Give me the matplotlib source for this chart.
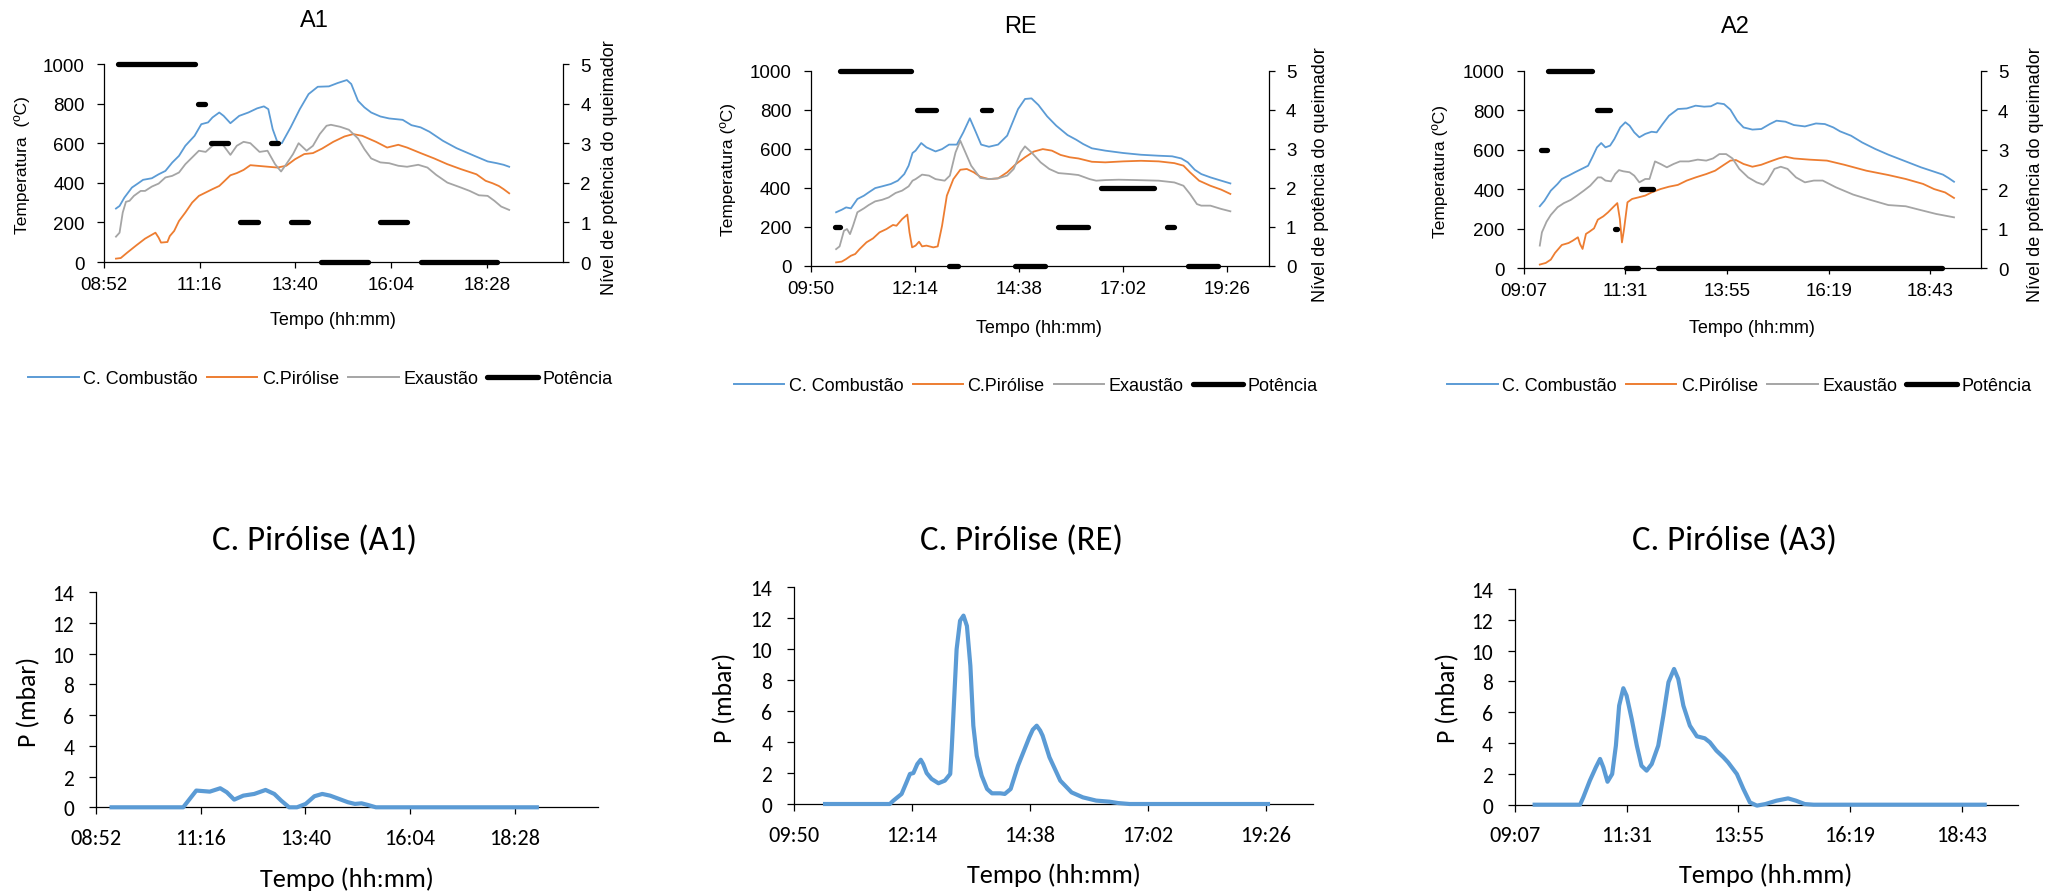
import numpy as np
import matplotlib
matplotlib.use("Agg")
import matplotlib.pyplot as plt
from matplotlib.ticker import FuncFormatter
from matplotlib.lines import Line2D

# ---------------- DATA (time in decimal hours) ----------------
# Panel A1 (top)
A1_comb_t = [9.18,9.27,9.39,9.58,9.74,9.86,10.08,10.25,10.42,10.59,10.76,10.92,11.15,11.32,11.49,11.60,11.77,11.88,12.05,12.27,12.50,12.72,12.89,13.00,13.11,13.23,13.34,13.56,13.79,14.01,14.24,14.52,14.74,14.97,15.08,15.25,15.41,15.58,15.81,16.03,16.37,16.59,16.82,17.04,17.38,17.72,18.17,18.50,18.73,18.90,19.04]
A1_comb_v = [270,283,325,376,398,415,423,443,460,502,536,587,637,696,705,730,755,738,701,738,755,776,786,772,671,604,600,680,772,848,885,887,904,919,899,814,781,755,735,725,718,691,680,658,612,575,536,508,499,491,481]
A1_pir_t = [9.18,9.30,9.46,9.69,9.91,10.17,10.25,10.31,10.47,10.53,10.64,10.76,10.92,11.09,11.26,11.43,11.60,11.77,11.88,12.05,12.21,12.38,12.55,12.72,13.00,13.23,13.45,13.67,13.90,14.12,14.35,14.63,14.91,15.13,15.36,15.70,15.98,16.26,16.48,16.82,17.16,17.49,17.83,18.22,18.45,18.62,18.78,18.90,19.04]
A1_pir_v = [17,20,47,84,118,148,123,98,101,131,157,207,250,300,334,351,368,384,405,438,449,465,489,486,481,477,486,519,545,550,573,607,634,646,637,607,578,592,578,550,523,494,469,443,410,398,384,368,347]
A1_exa_t = [9.18,9.27,9.35,9.43,9.52,9.63,9.80,9.91,10.08,10.25,10.42,10.59,10.76,10.92,11.09,11.26,11.43,11.60,11.77,11.88,12.05,12.21,12.38,12.55,12.78,12.98,13.17,13.32,13.45,13.62,13.76,13.96,14.12,14.29,14.46,14.57,14.80,15.02,15.25,15.41,15.58,15.81,16.03,16.26,16.48,16.76,16.99,17.21,17.49,17.83,18.05,18.28,18.50,18.67,18.84,19.04]
A1_exa_v = [128,148,250,304,309,334,359,359,381,396,427,435,452,494,528,562,556,587,604,587,541,587,607,600,556,562,494,457,494,545,600,562,587,646,688,693,683,668,624,570,523,503,499,486,481,491,477,440,401,376,359,337,334,309,280,263]
A1_pow_start = [9.22, 11.23, 11.56, 12.30, 13.06, 13.56, 14.31, 15.81, 16.82]
A1_pow_end = [11.17, 11.41, 11.99, 12.75, 13.25, 13.99, 15.49, 16.48, 18.73]
A1_pow_level = [5, 4, 3, 1, 3, 1, 0, 1, 0]

# Panel RE (top)
RE_comb_t = [10.43,10.56,10.66,10.77,10.92,11.07,11.18,11.33,11.49,11.69,11.85,12.00,12.10,12.19,12.26,12.39,12.51,12.72,12.87,13.03,13.21,13.36,13.51,13.65,13.77,13.95,14.16,14.37,14.62,14.78,14.93,15.09,15.29,15.50,15.76,15.96,16.12,16.32,16.63,17.04,17.45,17.86,18.17,18.38,18.53,18.69,18.84,19.05,19.30,19.51]
RE_comb_v = [274,287,299,294,342,359,376,398,407,419,436,470,513,578,590,629,607,586,598,621,621,684,756,684,621,610,621,667,803,855,858,824,766,718,670,646,624,602,590,578,569,564,561,550,530,492,470,453,436,422]
RE_pir_t = [10.43,10.56,10.66,10.77,10.87,10.97,11.13,11.28,11.43,11.59,11.74,11.82,11.95,12.07,12.12,12.18,12.26,12.34,12.41,12.51,12.67,12.77,12.87,12.98,13.13,13.29,13.44,13.60,13.75,13.95,14.16,14.37,14.57,14.78,14.98,15.19,15.40,15.60,15.81,16.01,16.32,16.63,17.04,17.45,17.86,18.22,18.43,18.58,18.79,19.05,19.30,19.51]
RE_pir_v = [17,21,34,51,60,85,120,140,171,188,209,205,239,262,171,94,103,123,99,103,94,99,205,359,444,492,496,479,456,444,448,479,521,556,585,598,590,568,556,550,533,530,535,538,535,526,513,479,436,410,390,368]
RE_exa_t = [10.43,10.51,10.61,10.68,10.75,10.82,10.92,11.07,11.18,11.33,11.49,11.64,11.80,11.95,12.10,12.19,12.26,12.41,12.57,12.72,12.93,13.05,13.18,13.29,13.39,13.54,13.75,13.95,14.16,14.37,14.52,14.68,14.78,14.93,15.14,15.34,15.55,15.81,16.01,16.27,16.42,16.63,16.94,17.35,17.86,18.22,18.43,18.58,18.74,18.84,19.05,19.30,19.51]
RE_exa_v = [85,99,179,188,162,205,274,294,311,330,338,350,373,385,407,436,444,467,462,444,436,462,581,641,590,513,450,444,448,462,496,581,612,581,530,496,475,470,465,444,436,439,441,439,436,427,410,368,316,308,308,291,279]
RE_pow_start = [10.41, 10.53, 12.29, 13.04, 13.78, 14.54, 15.53, 16.53, 18.04, 18.53]
RE_pow_end = [10.51, 12.16, 12.74, 13.23, 13.99, 15.24, 16.24, 17.74, 18.22, 19.23]
RE_pow_level = [1, 5, 4, 0, 4, 0, 1, 2, 1, 0]

# Panel A2 (top)
A2_comb_t = [9.50,9.61,9.76,9.92,10.02,10.18,10.33,10.49,10.64,10.74,10.85,10.95,11.05,11.16,11.26,11.40,11.52,11.62,11.73,11.85,11.99,12.14,12.26,12.40,12.55,12.76,12.97,13.18,13.38,13.54,13.69,13.85,14.00,14.16,14.31,14.52,14.73,14.93,15.09,15.30,15.50,15.76,16.02,16.23,16.43,16.59,16.85,17.11,17.42,17.73,18.14,18.50,18.81,19.02,19.15,19.28]
A2_comb_v = [314,342,393,427,452,469,486,503,519,562,612,634,612,621,654,713,739,722,688,663,680,691,688,730,772,806,809,823,818,820,836,831,803,747,713,702,705,730,747,742,725,718,733,730,713,693,671,637,604,575,541,511,489,474,457,438]
A2_pir_t = [9.50,9.64,9.76,9.86,10.02,10.18,10.28,10.40,10.45,10.51,10.59,10.67,10.78,10.87,11.00,11.11,11.23,11.33,11.39,11.44,11.49,11.57,11.68,11.83,11.99,12.14,12.35,12.55,12.76,12.97,13.18,13.43,13.64,13.85,14.00,14.13,14.31,14.52,14.73,14.93,15.14,15.30,15.50,15.86,16.28,16.69,17.21,17.73,18.14,18.55,18.81,19.07,19.28]
A2_pir_v = [19,27,44,78,118,128,140,157,123,98,174,185,202,246,263,283,309,330,250,131,199,334,351,359,368,384,401,413,422,444,460,477,494,524,545,548,528,514,524,540,556,565,556,550,545,524,494,472,452,427,401,384,356]
A2_exa_t = [9.50,9.55,9.66,9.76,9.92,10.07,10.23,10.38,10.54,10.69,10.87,10.95,11.05,11.18,11.28,11.37,11.47,11.62,11.73,11.85,11.99,12.09,12.22,12.35,12.50,12.66,12.81,13.02,13.23,13.43,13.59,13.74,13.90,14.05,14.21,14.42,14.62,14.78,14.88,15.04,15.19,15.35,15.55,15.76,15.97,16.18,16.49,16.90,17.31,17.73,18.14,18.45,18.86,19.28]
A2_exa_v = [115,182,236,270,309,330,346,368,393,418,460,460,444,440,477,497,491,486,469,435,452,452,541,528,511,528,541,541,550,545,556,578,578,556,503,460,435,423,444,503,514,503,460,435,444,444,410,373,346,320,314,297,275,258]
A2_pow_start = [9.52, 9.69, 10.85, 11.28, 11.54, 11.88, 12.28]
A2_pow_end = [9.66, 10.74, 11.16, 11.32, 11.83, 12.17, 19.00]
A2_pow_level = [3, 5, 4, 1, 0, 2, 0]

# Pressure panels (bottom)
P_A1_t = [9.19,10.88,11.18,11.49,11.73,11.88,12.05,12.26,12.51,12.77,12.97,13.13,13.31,13.49,13.69,13.89,14.07,14.25,14.46,14.66,14.82,14.97,15.12,15.30,15.48,19.04]
P_A1_v = [0,0,1.09,1.02,1.24,0.98,0.50,0.76,0.87,1.13,0.87,0.43,0,0,0.22,0.72,0.87,0.76,0.54,0.33,0.22,0.26,0.15,0,0,0]
P_RE_t = [10.43,11.79,11.86,12.03,12.13,12.20,12.27,12.35,12.42,12.47,12.54,12.64,12.78,12.91,13.02,13.05,13.10,13.15,13.22,13.29,13.36,13.43,13.49,13.56,13.66,13.77,13.87,14.04,14.13,14.25,14.40,14.63,14.70,14.78,14.85,14.90,15.04,15.26,15.49,15.72,15.99,16.26,16.44,16.67,19.53]
P_RE_v = [0,0,0.21,0.65,1.40,1.94,2.00,2.58,2.86,2.58,2.00,1.62,1.34,1.51,1.94,3.55,6.78,10.0,11.84,12.17,11.5,8.93,5.06,3.12,1.83,0.97,0.69,0.69,0.65,0.97,2.48,4.31,4.80,5.06,4.75,4.42,3.02,1.51,0.75,0.43,0.22,0.15,0.06,0,0]
P_A3_t = [9.50,10.52,10.59,10.73,10.86,10.95,11.02,11.11,11.21,11.29,11.36,11.45,11.52,11.63,11.74,11.84,11.95,12.06,12.20,12.31,12.42,12.54,12.63,12.74,12.88,13.03,13.20,13.31,13.45,13.60,13.70,13.89,14.03,14.17,14.32,14.50,14.74,14.99,15.16,15.35,15.54,19.26]
P_A3_v = [0,0,0.48,1.56,2.43,2.97,2.43,1.49,1.99,3.83,6.43,7.56,7.08,5.56,3.83,2.53,2.21,2.64,3.83,5.78,7.95,8.81,8.16,6.43,5.13,4.44,4.31,4.05,3.51,3.08,2.75,1.99,1.02,0.15,-0.06,0.04,0.26,0.41,0.26,0.04,0,0]

LEGEND_LABELS = ["C. Combustão", "C.Pirólise", "Exaustão", "Potência"]

# ---------------- STYLE ----------------
W, H, DPI = 2067, 895, 100
ARIAL = ['Liberation Sans', 'DejaVu Sans']
CALIBRI = ['Carlito', 'Liberation Sans', 'DejaVu Sans']
BLUE, ORANGE, GREY = '#5B9BD5', '#ED7D31', '#A5A5A5'

fig = plt.figure(figsize=(W / DPI, H / DPI), dpi=DPI)
fig.patch.set_facecolor('white')


def fx(x):
    return x / W


def fy(y):
    return 1 - y / H


def add_ax(l, t, r, b):
    return fig.add_axes([fx(l), fy(b), (r - l) / W, (b - t) / H])


def hhmm(x, pos=None):
    tot = int(np.floor(x * 60 + 1e-6))
    h, m = divmod(tot, 60)
    return f"{h:02d}:{m:02d}"


def top_panel(box, xmin, xmax, series, pow_s, pow_e, pow_l, title, title_xy,
              xlabel_xy, ylabel, ylabel_xy, y2label_xy, legend_xy):
    ax = add_ax(*box)
    for t, v, c in series:
        ax.plot(t, v, color=c, lw=1.3, zorder=3)
    ax.set_xlim(xmin, xmax)
    ax.set_ylim(0, 1000)
    ax.set_yticks(range(0, 1001, 200))
    ax.set_xticks(np.arange(xmin, xmax + 1e-6, 2.4))
    ax.xaxis.set_major_formatter(FuncFormatter(hhmm))
    for s in ['top', 'right']:
        ax.spines[s].set_visible(False)
    for s in ['left', 'bottom']:
        ax.spines[s].set_linewidth(0.9)
        ax.spines[s].set_color('black')
    ax.tick_params(axis='y', direction='out', length=4.8, width=0.9,
                   labelsize=13.5, pad=9, labelfontfamily=ARIAL)
    ax.tick_params(axis='x', direction='out', length=4, width=0.9,
                   labelsize=13.5, pad=6, labelfontfamily=ARIAL)

    ax2 = ax.twinx()
    ax2.set_ylim(0, 5)
    ax2.set_yticks(range(0, 6))
    for s in ['top', 'left', 'bottom']:
        ax2.spines[s].set_visible(False)
    ax2.spines['right'].set_linewidth(0.9)
    ax2.spines['right'].set_color('black')
    ax2.tick_params(axis='y', direction='out', length=4.2, width=0.9,
                    labelsize=13.5, pad=8, labelfontfamily=ARIAL)
    ax2.hlines(pow_l, pow_s, pow_e, colors='black', linewidth=3.8,
               capstyle='round', clip_on=False, zorder=4)

    ax.text(fx(title_xy[0]), fy(title_xy[1]), title, transform=fig.transFigure,
            ha='center', va='baseline', fontsize=17, family=ARIAL)
    ax.set_xlabel("Tempo (hh:mm)", fontsize=13, family=ARIAL)
    ax.xaxis.set_label_coords(fx(xlabel_xy[0]), fy(xlabel_xy[1]), transform=fig.transFigure)
    ax.xaxis.label.set_va('baseline')
    ax.set_ylabel(ylabel, fontsize=12.5, family=ARIAL)
    ax.yaxis.set_label_coords(fx(ylabel_xy[0]), fy(ylabel_xy[1]), transform=fig.transFigure)
    ax.yaxis.label.set_va('center')
    ax2.set_ylabel("Nível de potência do queimador", fontsize=13, family=ARIAL)
    ax2.yaxis.set_label_coords(fx(y2label_xy[0]), fy(y2label_xy[1]), transform=fig.transFigure)
    ax2.yaxis.label.set_va('center')

    handles = [Line2D([], [], color=BLUE, lw=1.4),
               Line2D([], [], color=ORANGE, lw=1.4),
               Line2D([], [], color=GREY, lw=1.4),
               Line2D([], [], color='black', lw=3.8, solid_capstyle='round')]
    fig.legend(handles, LEGEND_LABELS, loc='center',
               bbox_to_anchor=(fx(legend_xy[0]), fy(legend_xy[1])),
               ncol=4, frameon=False, handlelength=2.8, handletextpad=0.25,
               columnspacing=0.5, prop={'family': ARIAL, 'size': 13})
    return ax


def bottom_panel(box, xmin, xmax, t, v, title, title_xy, xlabel, xlabel_xy, ylabel_xy):
    ax = add_ax(*box)
    ax.plot(t, v, color=BLUE, lw=3.0, clip_on=False, zorder=3,
            solid_joinstyle='round', solid_capstyle='butt')
    ax.set_xlim(xmin, xmax)
    ax.set_ylim(0, 14)
    ax.set_yticks(range(0, 15, 2))
    ax.set_xticks(np.arange(xmin, xmax + 1e-6, 2.4))
    ax.xaxis.set_major_formatter(FuncFormatter(hhmm))
    for s in ['top', 'right']:
        ax.spines[s].set_visible(False)
    for s in ['left', 'bottom']:
        ax.spines[s].set_linewidth(0.9)
        ax.spines[s].set_color('black')
    ax.tick_params(axis='y', direction='out', length=4.8, width=0.9,
                   labelsize=15.5, pad=11, labelfontfamily=CALIBRI)
    ax.tick_params(axis='x', direction='out', length=4.8, width=0.9,
                   labelsize=16, pad=10, labelfontfamily=CALIBRI)
    ax.text(fx(title_xy[0]), fy(title_xy[1]), title, transform=fig.transFigure,
            ha='center', va='baseline', fontsize=25, family=CALIBRI)
    ax.set_xlabel(xlabel, fontsize=19, family=CALIBRI)
    ax.xaxis.set_label_coords(fx(xlabel_xy[0]), fy(xlabel_xy[1]), transform=fig.transFigure)
    ax.xaxis.label.set_va('baseline')
    ax.set_ylabel("P (mbar)", fontsize=18.5, family=CALIBRI)
    ax.yaxis.set_label_coords(fx(ylabel_xy[0]), fy(ylabel_xy[1]), transform=fig.transFigure)
    ax.yaxis.label.set_va('center')
    return ax


# ---------------- TOP ROW ----------------
top_panel((104.0, 65, 563.4, 263), 0.37 * 24, 0.85 * 24,
          [(A1_comb_t, A1_comb_v, BLUE), (A1_pir_t, A1_pir_v, ORANGE), (A1_exa_t, A1_exa_v, GREY)],
          A1_pow_start, A1_pow_end, A1_pow_level,
          "A1", (314.7, 26.7), (332.6, 325), "Temperatura  (ºC)", (22.3, 165), (609.4, 168), (320.3, 380))

top_panel((810.5, 71.7, 1269.0, 266.7), 0.41 * 24, 0.85 * 24,
          [(RE_comb_t, RE_comb_v, BLUE), (RE_pir_t, RE_pir_v, ORANGE), (RE_exa_t, RE_exa_v, GREY)],
          RE_pow_start, RE_pow_end, RE_pow_level,
          "RE", (1020.8, 33.3), (1038.7, 333), "Temperatura (ºC)", (727.9, 169), (1320.4, 175), (1025.9, 387))

top_panel((1523.7, 71.7, 1981.1, 269.3), 0.38 * 24, 0.83 * 24,
          [(A2_comb_t, A2_comb_v, BLUE), (A2_pir_t, A2_pir_v, ORANGE), (A2_exa_t, A2_exa_v, GREY)],
          A2_pow_start, A2_pow_end, A2_pow_level,
          "A2", (1734.9, 33.3), (1752.4, 333), "Temperatura (ºC)", (1440.0, 171), (2035.0, 175), (1739.3, 387))

# ---------------- BOTTOM ROW ----------------
bottom_panel((96.0, 593.3, 598.2, 808.3), 0.37 * 24, 0.85 * 24, P_A1_t, P_A1_v,
             "C. Pirólise (A1)", (314.7, 550), "Tempo (hh:mm)", (347.3, 886.7), (28.6, 702))
bottom_panel((794.0, 588.3, 1312.8, 805), 0.41 * 24, 0.85 * 24, P_RE_t, P_RE_v,
             "C. Pirólise (RE)", (1021.3, 550), "Tempo (hh:mm)", (1053.4, 883), (724.8, 698))
bottom_panel((1514.9, 590, 2017.5, 805.7), 0.38 * 24, 0.83 * 24, P_A3_t, P_A3_v,
             "C. Pirólise (A3)", (1734.4, 550), "Tempo (hh.mm)", (1766.0, 883), (1447.5, 698))

fig.savefig("out.png", dpi=DPI, facecolor='white')
